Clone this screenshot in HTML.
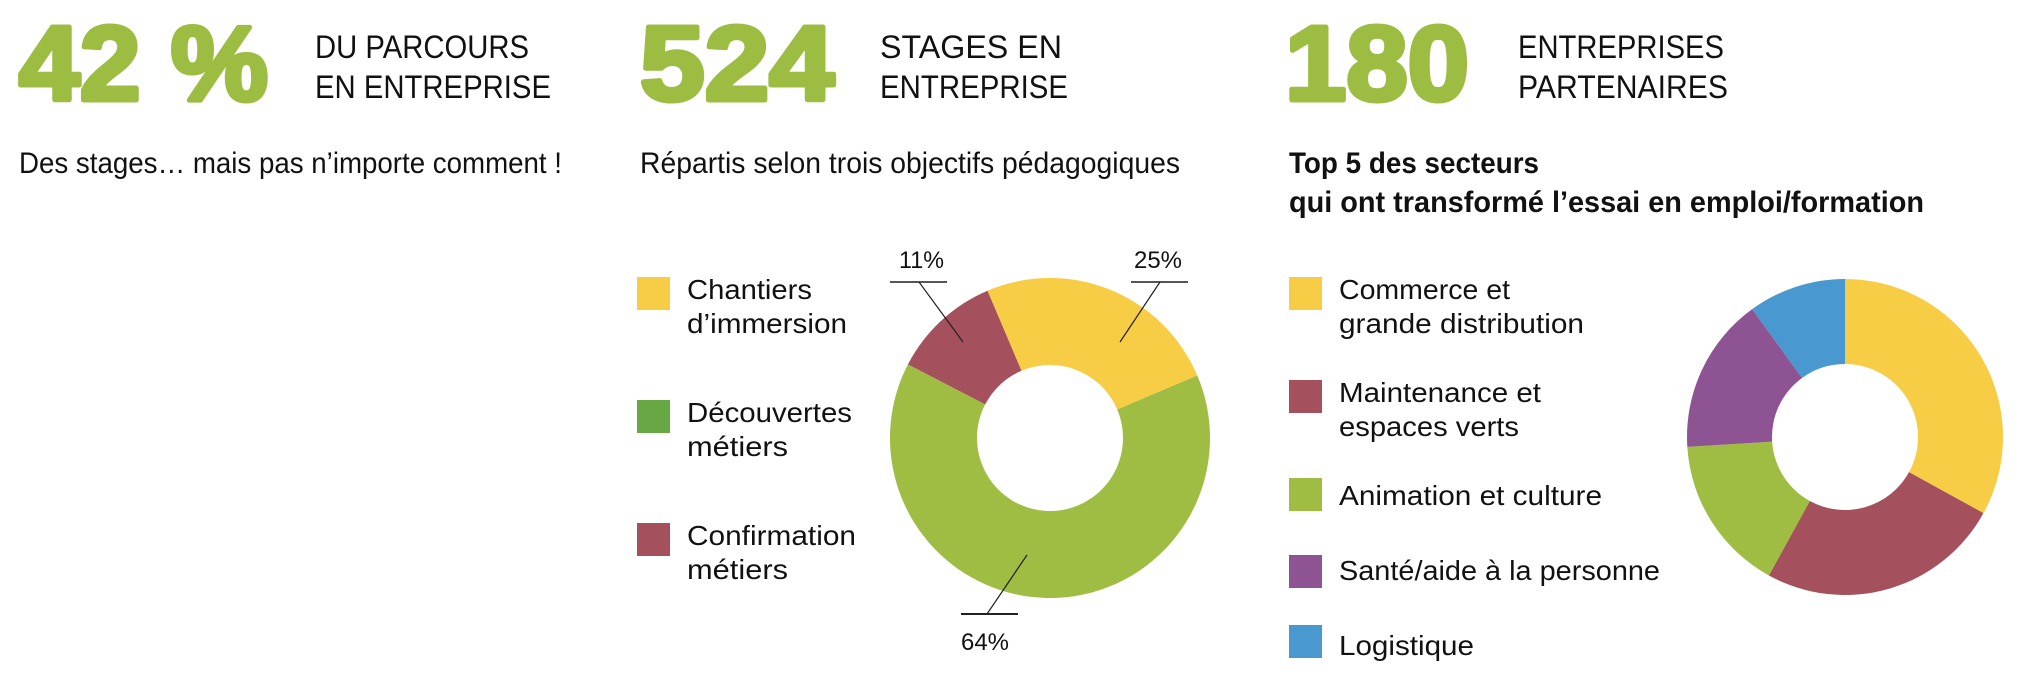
<!DOCTYPE html>
<html><head><meta charset="utf-8"><style>
html,body{margin:0;padding:0;background:#fff;width:2036px;height:690px;overflow:hidden}
svg{display:block}
text{font-family:"Liberation Sans Narrow","Liberation Sans",sans-serif;fill:#111}
.big{font-weight:bold;fill:#9dbd42;font-size:106px;stroke:#9dbd42;stroke-width:5;stroke-linejoin:round}
.hd{font-size:32px}
.sub{font-size:30px}
.lg{font-size:28px}
.pc{font-size:24px}
</style></head><body>
<svg id="chart" width="2036" height="690" viewBox="0 0 2036 690">
<text class="big" x="19" y="100" textLength="249" lengthAdjust="spacingAndGlyphs">42 %</text>
<text class="hd" x="315" y="58" textLength="214" lengthAdjust="spacingAndGlyphs">DU PARCOURS</text>
<text class="hd" x="315" y="98" textLength="236" lengthAdjust="spacingAndGlyphs">EN ENTREPRISE</text>
<text class="big" x="640" y="100" textLength="194" lengthAdjust="spacingAndGlyphs">524</text>
<text class="hd" x="880" y="58" textLength="182" lengthAdjust="spacingAndGlyphs">STAGES EN</text>
<text class="hd" x="880" y="98" textLength="188" lengthAdjust="spacingAndGlyphs">ENTREPRISE</text>
<text class="big" x="1285" y="100" textLength="184" lengthAdjust="spacingAndGlyphs">180</text>
<text class="hd" x="1518" y="58" textLength="206" lengthAdjust="spacingAndGlyphs">ENTREPRISES</text>
<text class="hd" x="1518" y="98" textLength="210" lengthAdjust="spacingAndGlyphs">PARTENAIRES</text>
<text class="sub" x="19" y="173" textLength="543" lengthAdjust="spacingAndGlyphs">Des stages… mais pas n’importe comment !</text>
<text class="sub" x="640" y="173" textLength="540" lengthAdjust="spacingAndGlyphs">Répartis selon trois objectifs pédagogiques</text>
<text class="sub" font-weight="bold" x="1289" y="173" textLength="250" lengthAdjust="spacingAndGlyphs">Top 5 des secteurs</text>
<text class="sub" font-weight="bold" x="1289" y="212" textLength="635" lengthAdjust="spacingAndGlyphs">qui ont transformé l’essai en emploi/formation</text>

<g>
<rect x="637" y="277" width="33" height="33" fill="#f6cd45"/>
<text class="lg" x="687" y="299" textLength="125" lengthAdjust="spacingAndGlyphs">Chantiers</text>
<text class="lg" x="687" y="333" textLength="160" lengthAdjust="spacingAndGlyphs">d’immersion</text>
<rect x="637" y="400" width="33" height="33" fill="#67a744"/>
<text class="lg" x="687" y="422" textLength="165" lengthAdjust="spacingAndGlyphs">Découvertes</text>
<text class="lg" x="687" y="456" textLength="101" lengthAdjust="spacingAndGlyphs">métiers</text>
<rect x="637" y="523" width="33" height="33" fill="#a4505d"/>
<text class="lg" x="687" y="545" textLength="169" lengthAdjust="spacingAndGlyphs">Confirmation</text>
<text class="lg" x="687" y="579" textLength="101" lengthAdjust="spacingAndGlyphs">métiers</text>
</g>

<g>
<rect x="1289" y="277" width="33" height="33" fill="#f6cd45"/>
<text class="lg" x="1339" y="299" textLength="171" lengthAdjust="spacingAndGlyphs">Commerce et</text>
<text class="lg" x="1339" y="333" textLength="245" lengthAdjust="spacingAndGlyphs">grande distribution</text>
<rect x="1289" y="380" width="33" height="33" fill="#a4505d"/>
<text class="lg" x="1339" y="402" textLength="202" lengthAdjust="spacingAndGlyphs">Maintenance et</text>
<text class="lg" x="1339" y="436" textLength="180" lengthAdjust="spacingAndGlyphs">espaces verts</text>
<rect x="1289" y="478" width="33" height="33" fill="#9fbd42"/>
<text class="lg" x="1339" y="505" textLength="263" lengthAdjust="spacingAndGlyphs">Animation et culture</text>
<rect x="1289" y="555" width="33" height="33" fill="#8e5393"/>
<text class="lg" x="1339" y="580" textLength="321" lengthAdjust="spacingAndGlyphs">Santé/aide à la personne</text>
<rect x="1289" y="625" width="33" height="33" fill="#4a98d0"/>
<text class="lg" x="1339" y="655" textLength="135" lengthAdjust="spacingAndGlyphs">Logistique</text>
</g>

<g id="donut1"></g>
<g id="donut2"></g>

<g stroke="#222" stroke-width="1.2" fill="none">
<line x1="890" y1="282" x2="947" y2="282" stroke="#555" stroke-width="2"/>
<line x1="919" y1="282" x2="963" y2="342"/>
<line x1="1131" y1="282" x2="1188" y2="282" stroke="#555" stroke-width="2"/>
<line x1="1160" y1="282" x2="1120" y2="342"/>
<line x1="961" y1="614" x2="1018" y2="614" stroke-width="2"/>
<line x1="987" y1="614" x2="1027" y2="555"/>
</g>
<text class="pc" x="899" y="268" textLength="45" lengthAdjust="spacingAndGlyphs">11%</text>
<text class="pc" x="1134" y="268" textLength="48" lengthAdjust="spacingAndGlyphs">25%</text>
<text class="pc" x="961" y="650" textLength="48" lengthAdjust="spacingAndGlyphs">64%</text>
</svg>
<script>
const objCategories = ["Chantiers d'immersion", "Découvertes métiers", "Confirmation métiers"];
const objValues = [25, 64, 11];
const objColors = ["#f6cd45", "#9fbd42", "#a4505d"];
const secCategories = ["Commerce et grande distribution", "Maintenance et espaces verts", "Animation et culture", "Santé/aide à la personne", "Logistique"];
const secValues = [33, 25, 16, 16, 10];
const secColors = ["#f6cd45", "#a4505d", "#9fbd42", "#8e5393", "#4a98d0"];

function pt(cx, cy, r, deg) {
  const a = (deg - 90) * Math.PI / 180;
  return [cx + r * Math.cos(a), cy + r * Math.sin(a)];
}
function drawDonut(gid, cats, vals, cols, cx, cy, R, r, startDeg) {
  const g = document.getElementById(gid);
  const total = vals.reduce((s, v) => s + v, 0);
  let ang = startDeg;
  vals.forEach((v, i) => {
    const sweep = v / total * 360;
    const a0 = ang, a1 = ang + sweep;
    const large = sweep > 180 ? 1 : 0;
    const p0 = pt(cx, cy, R, a0), p1 = pt(cx, cy, R, a1);
    const q1 = pt(cx, cy, r, a1), q0 = pt(cx, cy, r, a0);
    const d = `M${p0[0]},${p0[1]} A${R},${R} 0 ${large} 1 ${p1[0]},${p1[1]} L${q1[0]},${q1[1]} A${r},${r} 0 ${large} 0 ${q0[0]},${q0[1]} Z`;
    const path = document.createElementNS("http://www.w3.org/2000/svg", "path");
    path.setAttribute("d", d);
    path.setAttribute("fill", cols[i]);
    
    
    g.appendChild(path);
    ang = a1;
  });
}
drawDonut("donut1", objCategories, objValues, objColors, 1050, 438, 160, 73, -23);
drawDonut("donut2", secCategories, secValues, secColors, 1845, 437, 158, 73, 0);
</script>
</body></html>
